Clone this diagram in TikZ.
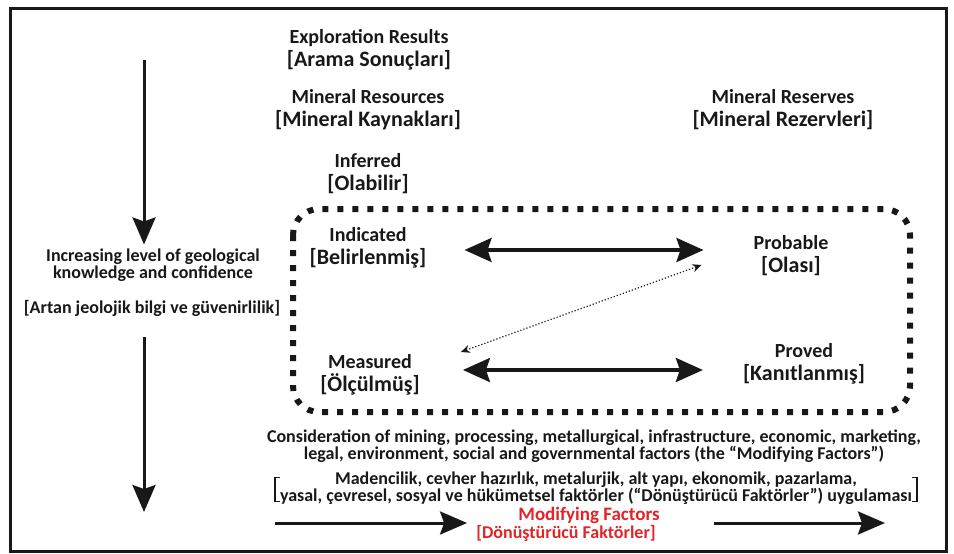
\documentclass[tikz,border=0pt]{standalone}
\usepackage{fontspec}
\setmainfont{Carlito}
\usepackage{tikz}
\usetikzlibrary{calc,positioning,arrows.meta}
\definecolor{inkgray}{RGB}{24,24,24}
\definecolor{modred}{RGB}{224,36,40}
\newcommand{\trline}[1]{{\fontsize{22}{23}\selectfont[#1]}}
\tikzset{
	lbl/.style={align=center,inner sep=0pt,text=inkgray,font=\fontsize{20}{23}\selectfont\bfseries},
	small/.style={align=center,inner sep=0pt,text=inkgray,font=\fontsize{18}{17}\selectfont\bfseries},
	redlbl/.style={align=center,inner sep=0pt,text=modred,font=\fontsize{17}{19}\selectfont\bfseries},
	thickarr/.style={draw=inkgray,line width=3pt,-{Stealth[length=27pt,width=23pt,inset=4pt]}},
	dblarr/.style={draw=inkgray,line width=3.5pt,{Stealth[length=27pt,width=24pt,inset=4pt]}-{Stealth[length=27pt,width=24pt,inset=4pt]}},
	dotarr/.style={draw=inkgray,line width=1.2pt,dotted,{Stealth[length=9pt,width=8pt]}-{Stealth[length=9pt,width=8pt]}},
	dotbox/.style={draw=inkgray,line width=6pt,dash pattern=on 6pt off 9pt,rounded corners=26pt},
	brk/.style={draw=inkgray,line width=1.5pt}
}
\begin{document}
\begin{tikzpicture}[x=1pt,y=-1pt]
	\useasboundingbox (0,0) rectangle (954,554);
	\draw[line width=3pt,inkgray] (10,8) rectangle (946,551);
	% headings
	\node[lbl] (expl) at (369,50) {Exploration Results\\\trline{Arama Sonuçları}};
	\node[lbl] (minres) at (368,110) {Mineral Resources\\\trline{Mineral Kaynakları}};
	\node[lbl] (infer) at (368,174) {Inferred\\\trline{Olabilir}};
	\node[lbl] (minrsv) at (783,110) {Mineral Reserves\\\trline{Mineral Rezervleri}};
	% categories
	\node[lbl] (ind) at (368,248) {Indicated\\\trline{Belirlenmiş}};
	\node[lbl] (meas) at (370,375) {Measured\\\trline{Ölçülmüş}};
	\node[lbl] (prob) at (791,256) {Probable\\\trline{Olası}};
	\node[lbl] (prov) at (804,364) {Proved\\\trline{Kanıtlanmış}};
	\draw[dotbox] (293,209) rectangle (910,412);
	\draw[dblarr] ($(ind.east)+(38,2)$) -- ($(prob.west)+(-50,-6)$);
	\draw[dblarr] ($(meas.east)+(43,-5)$) -- ($(prov.west)+(-40,6)$);
	\draw[dotarr] ($(meas.east)+(41,-23)$) -- ($(prob.west)+(-52,9)$);
	% confidence axis
	\node[small] (incr) at (153,265) {Increasing level of geological\\knowledge and confidence};
	\node[small] (incrtr) at (152,308) {[Artan jeolojik bilgi ve güvenirlilik]};
	\coordinate (ktop) at (144,60);
	\coordinate (kbot) at (144,512);
	\draw[thickarr,shorten >=4pt] (ktop) -- (ktop |- incr.north);
	\draw[thickarr,shorten <=21pt] (kbot |- incrtr.south) -- (kbot);
	% modifying factors
	\node[small] (consid) at (594,446) {Consideration of mining, processing, metallurgical, infrastructure, economic, marketing,\\legal, environment, social and governmental factors (the “Modifying Factors”)};
	\node[small] (constr) at (596,488) {Madencilik, cevher hazırlık, metalurjik, alt yapı, ekonomik, pazarlama,\\yasal, çevresel, sosyal ve hükümetsel faktörler (“Dönüştürücü Faktörler”) uygulaması};
	\draw[brk] ([xshift=-5pt,yshift=-6pt]constr.north west) ++(5,0) -- ++(-5,0) |- ([xshift=0pt,yshift=3pt]constr.south west);
	\draw[brk] ([xshift=5pt,yshift=-6pt]constr.north east) ++(-5,0) -- ++(5,0) |- ([xshift=0pt,yshift=3pt]constr.south east);
	\node[redlbl,font=\fontsize{19}{19}\selectfont\bfseries] (modf) at (589,515) {Modifying Factors};
	\node[redlbl,font=\fontsize{18}{19}\selectfont\bfseries] (modftr) at (566,533) {[Dönüştürücü Faktörler]};
	\coordinate (mleft) at (275,523);
	\coordinate (mright) at (885,523);
	\draw[thickarr,shorten >=9pt] (mleft) -- (mleft -| modftr.west);
	\draw[thickarr,shorten <=54pt] (mright -| modf.east) -- (mright);
\end{tikzpicture}
\end{document}
